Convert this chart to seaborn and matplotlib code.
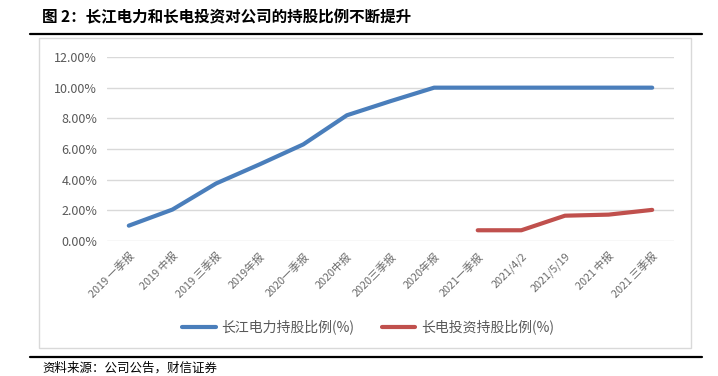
import numpy as np
import pandas as pd
import matplotlib
matplotlib.use("Agg")
import matplotlib.pyplot as plt
from matplotlib.patches import Rectangle
from matplotlib.lines import Line2D
import seaborn as sns

# dados
categorias = ["2019 一季报", "2019 中报", "2019 三季报", "2019年报", "2020一季报", "2020中报",
              "2020三季报", "2020年报", "2021一季报", "2021/4/2", "2021/5/19", "2021 中报", "2021 三季报"]
cjdl = [1.00, 2.05, 3.75, 5.00, 6.30, 8.20, 9.12, 10.00, 10.00, 10.00, 10.00, 10.00, 10.00]
cdtz_cats = ["2021一季报", "2021/4/2", "2021/5/19", "2021 中报", "2021 三季报"]
cdtz = [0.70, 0.70, 1.65, 1.72, 2.03]
serie_azul = "长江电力持股比例(%)"
serie_verm = "长电投资持股比例(%)"
yticks = [0, 2, 4, 6, 8, 10, 12]

df = pd.concat([
    pd.DataFrame({"cat": categorias, "val": cjdl, "serie": serie_azul}),
    pd.DataFrame({"cat": cdtz_cats, "val": cdtz, "serie": serie_verm}),
])

sns.set_style("white")
plt.rcParams["font.family"] = ["Noto Sans CJK SC", "DejaVu Sans"]

cores = {serie_azul: "#4A7EBB", serie_verm: "#C0504D"}
cinza = "#595959"

fig = plt.figure(figsize=(7.18, 3.76), dpi=100)
W, H = 718, 376

# moldura do gráfico e linhas pretas
fig.patches.append(Rectangle((39 / W, 1 - 348 / H), (691 - 39) / W, (348 - 38) / H,
                             transform=fig.transFigure, fill=False, edgecolor="#D9D9D9", lw=1))
fig.lines.append(Line2D([30 / W, 702 / W], [1 - 34 / H] * 2, transform=fig.transFigure, color="black", lw=1.6))
fig.lines.append(Line2D([30 / W, 702 / W], [1 - 357 / H] * 2, transform=fig.transFigure, color="black", lw=1.6))

fig.text(42 / W, 1 - 17 / H, "图 2：长江电力和长电投资对公司的持股比例不断提升",
         fontsize=11.2, fontweight="bold", va="center", ha="left", color="black")
fig.text(42 / W, 1 - 368 / H, "资料来源：公司公告，财信证券", fontsize=9, style="italic",
         va="center", ha="left", color="black")

ax = fig.add_axes([107 / W, 1 - 241 / H, (674 - 107) / W, (241 - 57) / H])
sns.lineplot(data=df, x="cat", y="val", hue="serie", palette=cores, lw=3, ax=ax,
             legend=False, sort=False)

ax.set_xlim(-0.5, len(categorias) - 0.5)
ax.set_ylim(0, 12)
ax.set_yticks(yticks)
ax.set_yticklabels([f"{v:.2f}%" for v in yticks], fontsize=9, color=cinza)
ax.set_xticks(range(len(categorias)))
ax.set_xticklabels(categorias, rotation=45, ha="right", rotation_mode="anchor",
                   fontsize=7.8, color="#6b6b6b")
ax.tick_params(axis="both", length=0, pad=7)
ax.grid(axis="y", color="#D9D9D9", lw=1)
ax.set_axisbelow(True)
for s in ax.spines.values():
    s.set_visible(False)
ax.set_xlabel("")
ax.set_ylabel("")

handles = [Line2D([], [], color=cores[serie_azul], lw=3),
           Line2D([], [], color=cores[serie_verm], lw=3)]
fig.legend(handles, [serie_azul, serie_verm], loc="center", bbox_to_anchor=(368 / W, 1 - 327 / H),
           ncol=2, frameon=False, fontsize=10, labelcolor=cinza, handlelength=2.4,
           columnspacing=2.0, handletextpad=0.4)

fig.savefig("out.png", dpi=100)
